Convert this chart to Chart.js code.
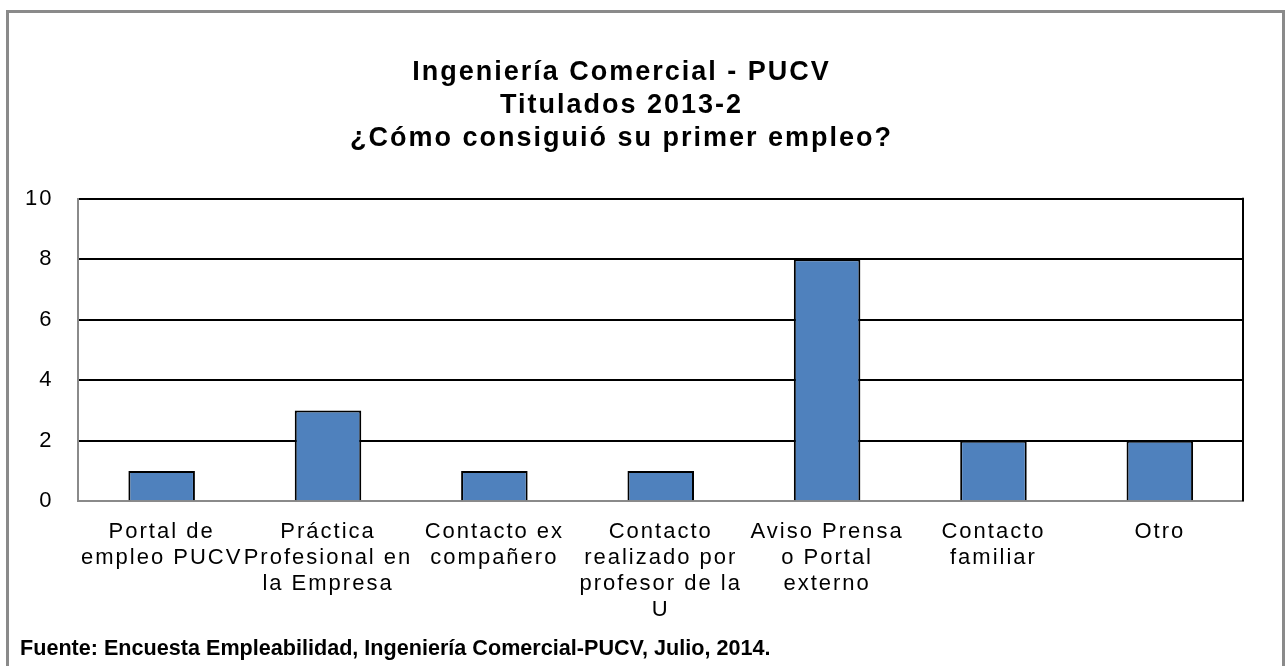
<!DOCTYPE html>
<html lang="es">
<head>
  <meta charset="UTF-8" />
  <title>Ingeniería Comercial - PUCV</title>
  <script src="https://cdn.jsdelivr.net/npm/chart.js"></script>
  <style>
    body { margin: 0; background: #fff; }
    .marco {
      position: absolute; left: 6px; top: 10px; width: 1279px; height: 700px;
      border: 3px solid #8a8a8a; box-sizing: border-box;
    }
    .wrap { position: absolute; left: 0; top: 0; width: 1287px; height: 666px; }
  </style>
</head>
<body>
  <div class="marco"></div>
  <div class="wrap"><canvas id="grafico"></canvas></div>
  <script>
    const titulo = ['Ingeniería Comercial - PUCV', 'Titulados 2013-2', '¿Cómo consiguió su primer empleo?'];
    const categorias = [
      ['Portal de', 'empleo PUCV'],
      ['Práctica', 'Profesional en', 'la Empresa'],
      ['Contacto ex', 'compañero'],
      ['Contacto', 'realizado por', 'profesor de la', 'U'],
      ['Aviso Prensa', 'o Portal', 'externo'],
      ['Contacto', 'familiar'],
      ['Otro']
    ];
    const valores = [1, 3, 1, 1, 8, 2, 2];
    const fuente = 'Fuente: Encuesta Empleabilidad, Ingeniería Comercial-PUCV, Julio, 2014.';

    // espaciado de letras como en el original
    const espaciado = {
      id: 'espaciado',
      beforeUpdate(chart) { chart.ctx.letterSpacing = '2px'; },
      beforeLayout(chart) { chart.ctx.letterSpacing = '2px'; },
      beforeDraw(chart) { chart.ctx.letterSpacing = '2px'; }
    };

    const extras = {
      id: 'extras',
      afterDraw(chart) {
        const ctx = chart.ctx, a = chart.chartArea;
        ctx.save();
        ctx.letterSpacing = '0px';
        ctx.strokeStyle = '#000';
        ctx.lineWidth = 2;
        ctx.beginPath();
        ctx.moveTo(a.right, a.top - 1);
        ctx.lineTo(a.right, a.bottom);
        ctx.stroke();
        ctx.fillStyle = '#000';
        ctx.font = 'bold 21.6px "Liberation Sans", Arial, sans-serif';
        ctx.textBaseline = 'alphabetic';
        ctx.fillText(fuente, 20, 655);
        ctx.restore();
      }
    };

    new Chart(document.getElementById('grafico'), {
      type: 'bar',
      plugins: [espaciado, extras],
      data: {
        labels: categorias,
        datasets: [{
          data: valores,
          backgroundColor: '#4F81BD',
          borderColor: '#000',
          borderWidth: 2,
          barPercentage: 0.4,
          categoryPercentage: 1.0
        }]
      },
      options: {
        responsive: true,
        maintainAspectRatio: false,
        animation: false,
        layout: { padding: { left: 0, right: 44, top: 0, bottom: 25 } },
        plugins: {
          legend: { display: false },
          tooltip: { enabled: false },
          title: {
            display: true,
            text: titulo,
            color: '#000',
            font: { family: '"Liberation Sans", Arial, sans-serif', size: 27, weight: 'bold', lineHeight: 1.22 },
            padding: { top: 56, bottom: 44 }
          }
        },
        scales: {
          x: {
            grid: { display: false, drawTicks: false },
            border: { color: '#8a8a8a', width: 2 },
            ticks: {
              color: '#000',
              autoSkip: false,
              maxRotation: 0,
              padding: 18,
              font: { family: '"Liberation Sans", Arial, sans-serif', size: 22, lineHeight: 1.18 }
            }
          },
          y: {
            min: 0,
            max: 10,
            grid: { color: '#000', lineWidth: 2, drawTicks: false },
            border: { color: '#8a8a8a', width: 2 },
            ticks: {
              stepSize: 2,
              color: '#000',
              padding: 25,
              font: { family: '"Liberation Sans", Arial, sans-serif', size: 22 }
            }
          }
        }
      }
    });
  </script>
</body>
</html>
